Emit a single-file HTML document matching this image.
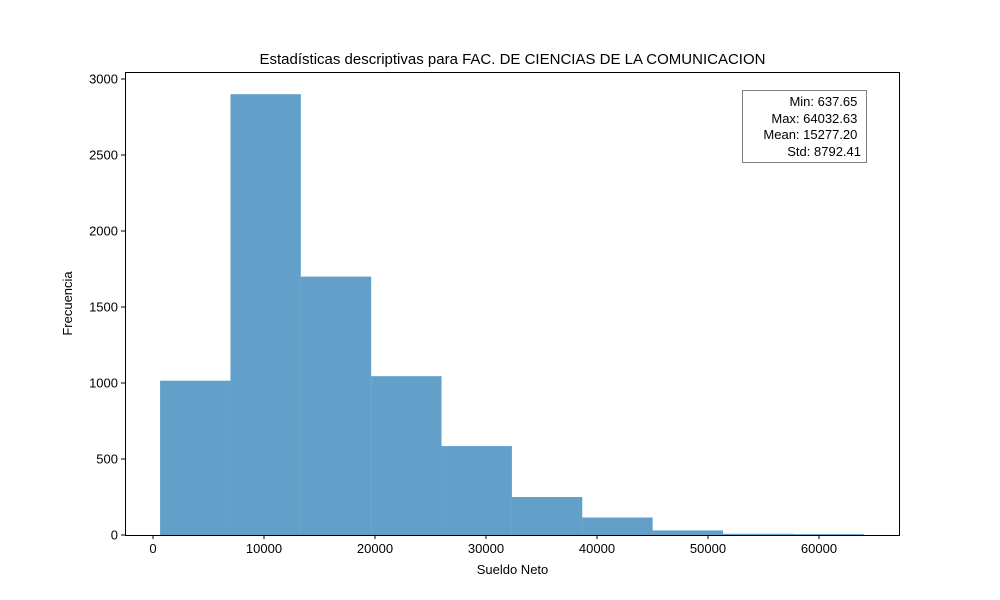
<!DOCTYPE html>
<html><head><meta charset="utf-8"><style>body{margin:0;background:#fff}svg{display:block;font-family:"Liberation Sans","DejaVu Sans",sans-serif}</style></head>
<body>
<svg id="chart" width="1000" height="600">
<rect width="1000" height="600" fill="#fff"/>
<text x="512.5" y="64" font-size="15" text-anchor="middle">Estadísticas descriptivas para FAC. DE CIENCIAS DE LA COMUNICACION</text>
<g id="bars"></g>
<g id="axes"></g>
<text x="512.5" y="574" font-size="13" text-anchor="middle">Sueldo Neto</text>
<text x="72" y="303.5" font-size="13" text-anchor="middle" transform="rotate(-90 72 303.5)">Frecuencia</text>
<g>
<rect x="742.5" y="90.5" width="124" height="72" fill="#fff" stroke="#808080"/>
<text font-size="13" text-anchor="end">
<tspan x="861" y="106">Min: 637.65</tspan>
<tspan x="861" y="123">Max: 64032.63</tspan>
<tspan x="861" y="139">Mean: 15277.20</tspan>
<tspan x="861" y="156">Std: 8792.41</tspan>
</text></g>
</svg>
<script>
const binMin = 637.65;
const binMax = 64032.63;
const counts = [1015, 2900, 1700, 1045, 585, 250, 115, 30, 8, 6];
const xTicks = [0, 10000, 20000, 30000, 40000, 50000, 60000];
const yTicks = [0, 500, 1000, 1500, 2000, 2500, 3000];
const L=125,R=900,T=72,B=535;
const xs=v=>153+(v)*(819-153)/60000;
const ys=v=>B-v*(B-79)/3000;
const NS='http://www.w3.org/2000/svg';
const bars=document.getElementById('bars'),axes=document.getElementById('axes');
function mk(tag,at,p){const e=document.createElementNS(NS,tag);for(const k in at)e.setAttribute(k,at[k]);p.appendChild(e);return e;}
const w=(binMax-binMin)/counts.length;
counts.forEach((c,i)=>{const x0=xs(binMin+i*w),x1=xs(binMin+(i+1)*w);
const r=mk('rect',{x:x0,y:ys(c),width:x1-x0,height:B-ys(c),fill:'#1f77b4','fill-opacity':0.7},bars);

});
mk('rect',{x:L+0.5,y:T+0.5,width:R-L-1,height:B-T,fill:'none',stroke:'#000'},axes);
xTicks.forEach(v=>{const x=xs(v);mk('line',{x1:x,x2:x,y1:B,y2:B+4,stroke:'#000'},axes);
const t=mk('text',{x:x,y:B+18,'font-size':13,'text-anchor':'middle'},axes);t.textContent=v;

});
yTicks.forEach(v=>{const y=ys(v);mk('line',{x1:L-4,x2:L,y1:y,y2:y,stroke:'#000'},axes);
const t=mk('text',{x:L-7,y:y+4.5,'font-size':13,'text-anchor':'end'},axes);t.textContent=v;

});
</script>
</body></html>
